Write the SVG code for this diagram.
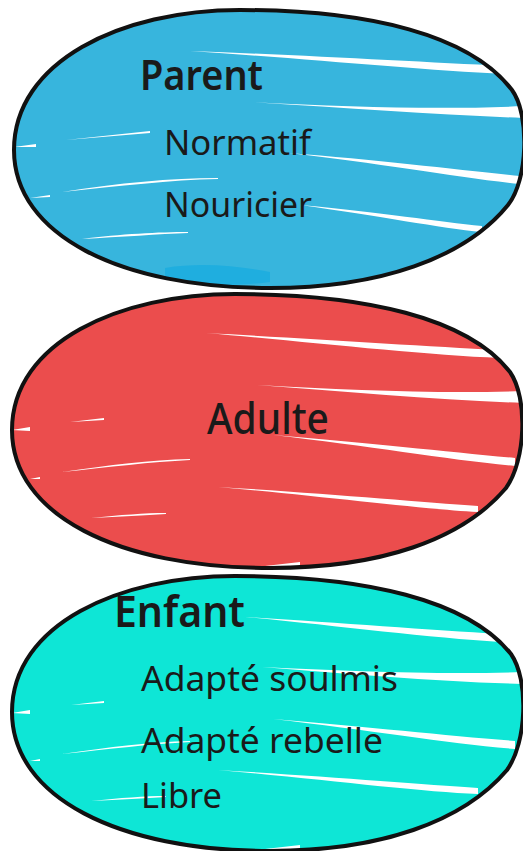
<svg xmlns="http://www.w3.org/2000/svg" width="523" height="851" viewBox="0 0 523 851">
<style>
.outline{fill:none;stroke:#111;stroke-width:4;stroke-linejoin:round}
.streak{fill:#fff}
.t{font-family:"Noto Sans","DejaVu Sans",sans-serif;fill:#1a1a1a}
.h{font-weight:600}
</style>
<defs>
<path id="e1" d="M14,150 C14,62 120,10 240,10 C370,10 470,35 512,90 C530,115 528,180 508,205 C465,258 380,288 270,288 C120,288 14,235 14,150 Z"/>
<path id="e2" d="M12,430 C12,342 120,294 235,294 C365,294 468,318 510,372 C528,398 526,460 506,488 C462,540 380,568 270,568 C118,568 12,515 12,430 Z"/>
<path id="e3" d="M12,712 C12,624 120,576 235,576 C365,576 468,600 511,654 C529,680 527,742 507,770 C463,822 380,851 270,851 C118,851 12,797 12,712 Z"/>
<clipPath id="c1"><use href="#e1"/></clipPath>
<clipPath id="c2"><use href="#e2"/></clipPath>
<clipPath id="c3"><use href="#e3"/></clipPath>
</defs>
<g id="parent">
<use href="#e1" fill="#37B5DD"/>
<g clip-path="url(#c1)">
<path class="streak" d="M190,51 C300,55 420,62 505,66 L505,74 C420,70 300,58 190,51 Z"/>
<path class="streak" d="M250,102 C350,107 440,110 525,106 L525,118 C440,115 350,108 250,102 Z"/>
<path class="streak" d="M66,140 L150,131 L150,133 Z"/>
<path class="streak" d="M14,147 L36,144 L36,147 Z"/>
<path class="streak" d="M288,153 C380,160 460,170 520,176 L520,184 C460,178 380,163 288,153 Z"/>
<path class="streak" d="M62,192 C120,183 170,178 218,178 L218,179 C170,180 120,186 62,192 Z"/>
<path class="streak" d="M30,198 L50,195 L50,197 Z"/>
<path class="streak" d="M300,205 C380,212 440,222 482,226 L482,232 C440,228 380,216 300,205 Z"/>
<path class="streak" d="M82,239 C120,234 160,232 188,232 L188,233 C160,234 120,237 82,239 Z"/>
<path d="M165,268 C200,262 240,266 270,272 L270,282 C240,286 200,286 165,284 Z" fill="#1FAEDF"/>
</g>
<use href="#e1" class="outline"/>
<text class="t h" x="140" y="90" font-size="41" textLength="123" lengthAdjust="spacingAndGlyphs">Parent</text>
<text class="t" x="164" y="155" font-size="35" textLength="147" lengthAdjust="spacingAndGlyphs">Normatif</text>
<text class="t" x="164" y="217" font-size="35" textLength="148" lengthAdjust="spacingAndGlyphs">Nouricier</text>
</g>
<g id="adulte">
<use href="#e2" fill="#EB4D4D"/>
<g clip-path="url(#c2)">
<path class="streak" d="M206,333 C300,338 420,346 500,350 L500,358 C420,355 300,341 206,333 Z"/>
<path class="streak" d="M257,385 C350,390 440,394 525,391 L525,403 C440,400 350,392 257,385 Z"/>
<path class="streak" d="M70,422 L104,418 L104,420 Z"/>
<path class="streak" d="M12,430 L30,427 L30,431 Z"/>
<path class="streak" d="M273,435 C370,443 450,452 515,458 L515,466 C450,460 370,446 273,435 Z"/>
<path class="streak" d="M62,472 C110,465 150,460 190,459 L190,460 C150,462 110,467 62,472 Z"/>
<path class="streak" d="M30,479 L40,477 L40,479 Z"/>
<path class="streak" d="M218,487 C320,493 420,502 478,506 L478,512 C420,509 320,496 218,487 Z"/>
<path class="streak" d="M91,518 C120,515 145,513 166,513 L166,514 C145,515 120,517 91,518 Z"/>
<path class="streak" d="M265,566 L300,562 L300,570 Z"/>
</g>
<use href="#e2" class="outline"/>
<text class="t" x="207" y="434" font-size="44" font-weight="500" textLength="122" lengthAdjust="spacingAndGlyphs">Adulte</text>
</g>
<g id="enfant">
<use href="#e3" fill="#0EE6D6"/>
<g clip-path="url(#c3)">
<path class="streak" d="M245,617 C330,622 430,630 500,634 L500,642 C430,638 330,625 245,617 Z"/>
<path class="streak" d="M262,667 C350,671 440,675 525,672 L525,684 C440,682 350,674 262,667 Z"/>
<path class="streak" d="M71,705 L104,701 L104,703 Z"/>
<path class="streak" d="M12,713 L30,710 L30,714 Z"/>
<path class="streak" d="M273,719 C370,727 450,736 515,741 L515,749 C450,744 370,730 273,719 Z"/>
<path class="streak" d="M62,754 C110,747 150,742 190,741 L190,742 C150,744 110,749 62,754 Z"/>
<path class="streak" d="M30,761 L40,759 L40,761 Z"/>
<path class="streak" d="M218,770 C320,776 420,784 478,788 L478,794 C420,792 320,779 218,770 Z"/>
<path class="streak" d="M91,801 C120,798 145,796 166,796 L166,797 C145,798 120,800 91,801 Z"/>
<path class="streak" d="M265,849 L300,845 L300,853 Z"/>
</g>
<use href="#e3" class="outline"/>
<text class="t h" x="114" y="627" font-size="44" textLength="131" lengthAdjust="spacingAndGlyphs">Enfant</text>
<text class="t" x="141" y="691" font-size="35" textLength="257" lengthAdjust="spacingAndGlyphs">Adapté soulmis</text>
<text class="t" x="141" y="753" font-size="35" textLength="242" lengthAdjust="spacingAndGlyphs">Adapté rebelle</text>
<text class="t" x="141" y="808" font-size="35" textLength="81" lengthAdjust="spacingAndGlyphs">Libre</text>
</g>
</svg>
